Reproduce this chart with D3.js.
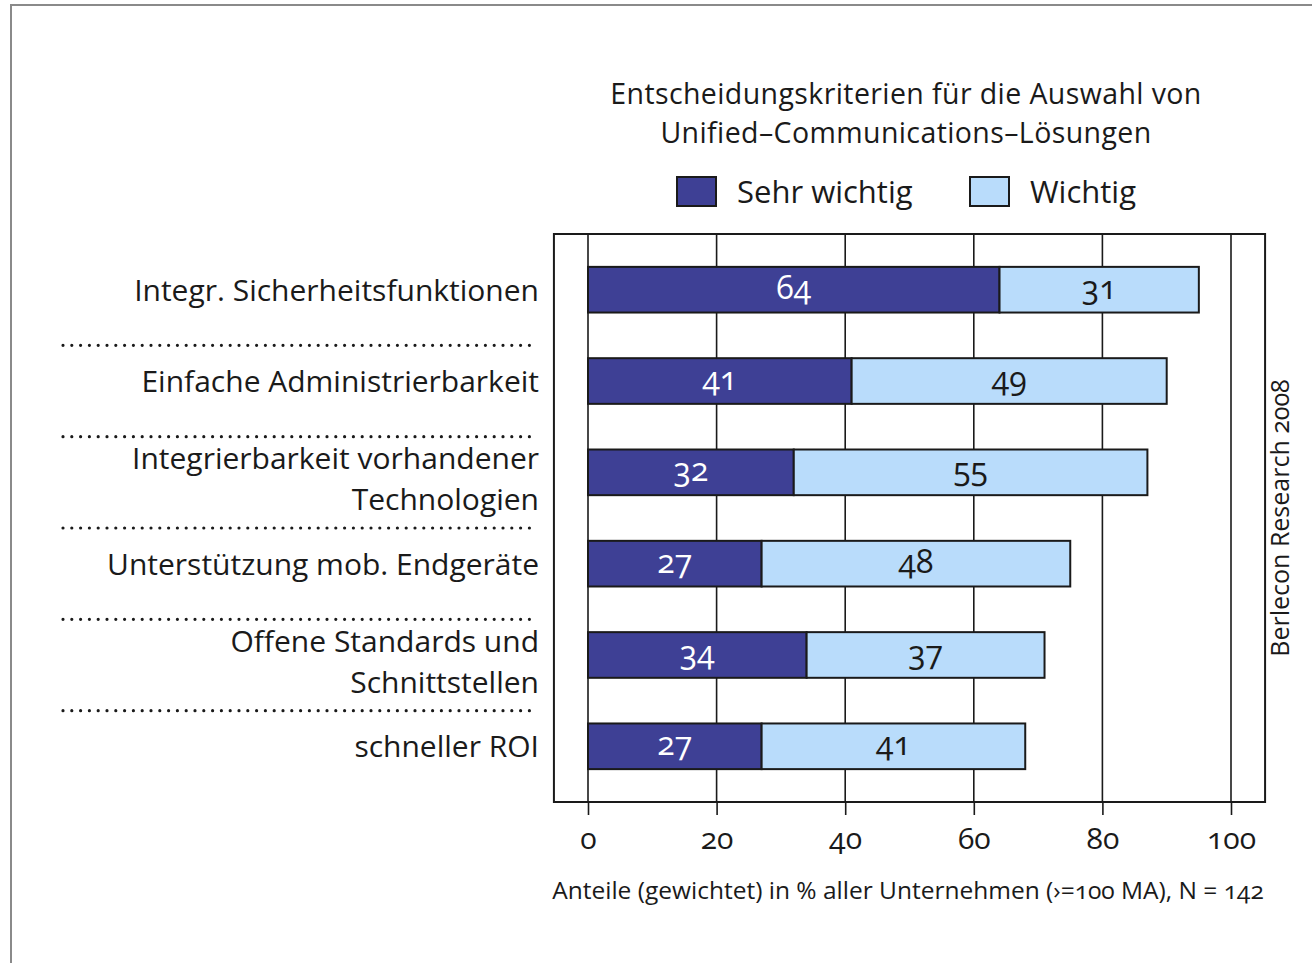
<!DOCTYPE html>
<html>
<head>
<meta charset="utf-8">
<script src="https://cdn.jsdelivr.net/npm/d3@7"></script>
<style>
  body { margin: 0; background: #fff; }
  svg text { font-family: "Open Sans", "Noto Sans", sans-serif; fill: #1a1a1a; font-variant-numeric: oldstyle-nums; }
</style>
</head>
<body>
<div id="chart"></div>
<script>
// Entscheidungskriterien UC-Loesungen
const categories = [
  ["Integr. Sicherheitsfunktionen"],
  ["Einfache Administrierbarkeit"],
  ["Integrierbarkeit vorhandener", "Technologien"],
  ["Unterstützung mob. Endgeräte"],
  ["Offene Standards und", "Schnittstellen"],
  ["schneller ROI"]
];
const sehrWichtig = [64, 41, 32, 27, 34, 27];
const wichtig = [31, 49, 55, 48, 37, 41];
const seriesNames = ["Sehr wichtig", "Wichtig"];
const xTicks = [0, 20, 40, 60, 80, 100];

const width = 1312, height = 963;
const colors = ["#3e4095", "#b9dcfb"];

let svg = d3.select("#chart").append("svg")
    .attr("width", width)
    .attr("height", height);

// outer frame (top + left)
svg.append("path")
    .attr("d", "M11,963 V5 H1312")
    .attr("fill", "none")
    .attr("stroke", "#8a8a8a")
    .attr("stroke-width", 2);

let x = d3.scaleLinear().domain([0, 100]).range([588, 1231]);
let y = d3.scaleBand()
    .domain(d3.range(categories.length))
    .range([234, 802])
    .paddingInner(0.5)
    .paddingOuter(0.36);

const boxL = x(-5.3), boxR = x(105.3), boxT = 234, boxB = 802;

// gridlines
svg.append("g").selectAll("line").data(xTicks).enter()
    .append("line")
    .attr("x1", d => x(d)).attr("x2", d => x(d))
    .attr("y1", boxT).attr("y2", boxB)
    .attr("stroke", "#1a1a1a").attr("stroke-width", 1.6);

// x axis
let xAxis = svg.append("g")
    .attr("transform", `translate(0,${boxB})`)
    .call(d3.axisBottom(x).tickValues(xTicks).tickSize(13).tickPadding(13));
xAxis.select(".domain").remove();
xAxis.selectAll("line").attr("stroke", "#1a1a1a").attr("stroke-width", 1.6);
xAxis.selectAll("text")
    .style("font-size", "30px")
    .attr("fill", "#1a1a1a");

// plot box
svg.append("rect")
    .attr("x", boxL).attr("y", boxT)
    .attr("width", boxR - boxL).attr("height", boxB - boxT)
    .attr("fill", "none")
    .attr("stroke", "#1a1a1a").attr("stroke-width", 2);

// stacked bars
let rows = categories.map((c, i) => ({ i: i, a: sehrWichtig[i], b: wichtig[i] }));
let segs = [];
rows.forEach(r => {
    segs.push({ i: r.i, s: 0, x0: 0, x1: r.a, v: r.a });
    segs.push({ i: r.i, s: 1, x0: r.a, x1: r.a + r.b, v: r.b });
});

svg.append("g").selectAll("rect").data(segs).enter()
    .append("rect")
    .attr("x", d => x(d.x0))
    .attr("y", d => y(d.i))
    .attr("width", d => x(d.x1) - x(d.x0))
    .attr("height", y.bandwidth())
    .attr("fill", d => colors[d.s])
    .attr("stroke", "#1a1a1a")
    .attr("stroke-width", 2);

svg.append("g").selectAll("text").data(segs).enter()
    .append("text")
    .attr("x", d => x((d.x0 + d.x1) / 2))
    .attr("y", d => y(d.i) + y.bandwidth() / 2 + 9)
    .attr("text-anchor", "middle")
    .style("font-size", "32px")
    .style("fill", d => d.s === 0 ? "#fff" : "#1a1a1a")
    .text(d => d.v);

// category labels
let labels = svg.append("g").selectAll("text").data(categories).enter()
    .append("text")
    .attr("text-anchor", "end")
    .style("font-size", "30px");
labels.each(function(lines, i) {
    let cy = y(i) + y.bandwidth() / 2;
    let t = d3.select(this);
    if (lines.length === 1) {
        t.append("tspan").attr("x", 539).attr("y", cy + 11).text(lines[0]);
    } else {
        t.append("tspan").attr("x", 539).attr("y", cy - 3).text(lines[0]);
        t.append("tspan").attr("x", 539).attr("y", cy + 38).text(lines[1]);
    }
});

// dotted separators
let sepY = d3.range(1, categories.length).map(i => y(i) - (y.step() - y.bandwidth()) / 2 + 10);
svg.append("g").selectAll("line").data(sepY).enter()
    .append("line")
    .attr("x1", 63).attr("x2", 538)
    .attr("y1", d => d).attr("y2", d => d)
    .attr("stroke", "#1a1a1a")
    .attr("stroke-width", 3.2)
    .attr("stroke-linecap", "round")
    .attr("stroke-dasharray", "0,8.8");

// title (two lines)
let title = svg.append("g")
    .attr("text-anchor", "middle")
    .style("font-size", "28.5px")
    .style("letter-spacing", "0.4px");
title.append("text").attr("x", 906).attr("y", 104).text("Entscheidungskriterien für die Auswahl von");
title.append("text").attr("x", 906).attr("y", 143).text("Unified\u2013Communications\u2013Lösungen");

// legend
let legendX = [677, 970];
let legend = svg.append("g").selectAll("g").data(seriesNames).enter()
    .append("g")
    .attr("transform", (d, i) => `translate(${legendX[i]},177)`);
legend.append("rect")
    .attr("width", 39).attr("height", 29)
    .attr("fill", (d, i) => colors[i])
    .attr("stroke", "#1a1a1a").attr("stroke-width", 2);
legend.append("text")
    .attr("x", 60).attr("y", 26)
    .style("font-size", "31px")
    .text(d => d);

// source, rotated
svg.append("text")
    .attr("transform", "translate(1289,518) rotate(-90)")
    .attr("text-anchor", "middle")
    .style("font-size", "25px")
    .text("Berlecon Research 2008");

// footnote
svg.append("text")
    .attr("x", 908).attr("y", 899)
    .attr("text-anchor", "middle")
    .style("font-size", "24.5px")
    .text("Anteile (gewichtet) in % aller Unternehmen (\u203A=100 MA), N = 142");
</script>
</body>
</html>
